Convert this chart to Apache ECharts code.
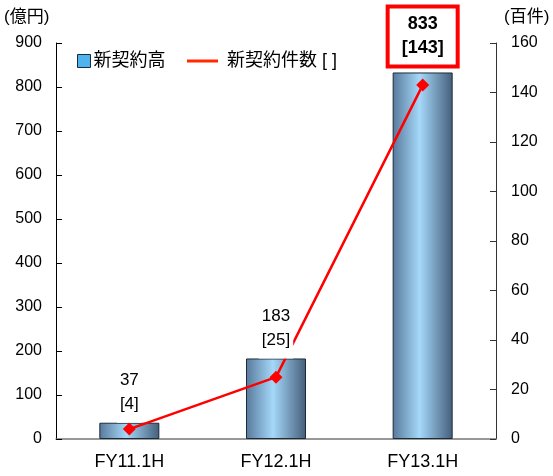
<!DOCTYPE html>
<html>
<head>
<meta charset="utf-8">
<script src="https://cdn.jsdelivr.net/npm/echarts@6/dist/echarts.min.js"></script>
<style>
  html, body { margin: 0; padding: 0; background: #fff; }
  #chart { width: 553px; height: 476px; }
</style>
</head>
<body>
<div id="chart"></div>
<script>
// Half-year new contract volume (億円) and contract count (百件)
const categories = ['FY11.1H', 'FY12.1H', 'FY13.1H'];
const contractAmount = [37, 183, 833];
const contractCount = [4, 25, 143];
const leftTicks = { min: 0, max: 900, interval: 100 };
const rightTicks = { min: 0, max: 160, interval: 20 };

const FONT = '"Liberation Sans", Arial, "Noto Sans CJK JP", sans-serif';

const chart = echarts.init(document.getElementById('chart'), null, { renderer: 'canvas' });

// Value labels sit above each bar: amount on the first line, count in brackets below.
const labelData = contractAmount.map((v, i) => {
  const item = { value: [categories[i], v] };
  if (i === contractAmount.length - 1) {
    item.label = {
      fontWeight: 'bold',
      fontSize: 18,
      borderColor: '#ff0000',
      borderWidth: 4,
      padding: [4, 12, 4, 12],
      distance: 8
    };
  }
  return item;
});

chart.setOption({
  animation: false,
  textStyle: { fontFamily: FONT },
  grid: { left: 56, right: 57, top: 43, bottom: 37, containLabel: false },
  legend: [
    {
      data: [{ name: '新契約高', icon: 'rect' }],
      left: 72, top: 47,
      itemWidth: 13, itemHeight: 13, itemGap: 5,
      itemStyle: { color: '#4fb4ee', borderColor: '#1a2a3a', borderWidth: 1 },
      textStyle: { fontSize: 18, color: '#000', fontFamily: FONT, padding: [0, 0, 0, -2] }
    },
    {
      data: [{ name: '新契約件数 [ ]', icon: 'rect' }],
      left: 182, top: 47,
      itemWidth: 31, itemHeight: 3,
      itemStyle: { color: '#ff2a00', borderWidth: 0 },
      textStyle: { fontSize: 18, color: '#000', fontFamily: FONT, padding: [0, 0, 0, 4] }
    }
  ],
  xAxis: {
    type: 'category',
    data: categories,
    axisLine: { lineStyle: { color: '#777', width: 1.5 } },
    axisTick: { show: false },
    axisLabel: { fontSize: 18, color: '#000', margin: 14, fontFamily: FONT }
  },
  yAxis: [
    {
      type: 'value',
      min: leftTicks.min, max: leftTicks.max, interval: leftTicks.interval,
      splitLine: { show: false },
      axisLine: { show: true, lineStyle: { color: '#000', width: 1 } },
      axisTick: { show: true, inside: true, length: 6, lineStyle: { color: '#000' } },
      axisLabel: { fontSize: 16, color: '#000', margin: 14, fontFamily: FONT }
    },
    {
      type: 'value',
      min: rightTicks.min, max: rightTicks.max, interval: rightTicks.interval,
      splitLine: { show: false },
      axisLine: { show: true, lineStyle: { color: '#333', width: 1 } },
      axisTick: { show: true, inside: true, length: 6, lineStyle: { color: '#333' } },
      axisLabel: { fontSize: 16, color: '#000', margin: 15, fontFamily: FONT }
    }
  ],
  graphic: [
    { type: 'text', left: 4, top: 9, style: { text: '(億円)', fill: '#000', font: '17px ' + FONT } },
    { type: 'text', left: 504, top: 9, style: { text: '(百件)', fill: '#000', font: '17px ' + FONT } }
  ],
  series: [
    {
      name: '新契約高',
      type: 'bar',
      yAxisIndex: 0,
      data: contractAmount,
      barWidth: 60,
      z: 2,
      itemStyle: {
        borderColor: '#1c2b3a',
        borderWidth: 1,
        color: new echarts.graphic.LinearGradient(0, 0, 1, 0, [
          { offset: 0, color: '#58799b' },
          { offset: 0.45, color: '#a5d8f9' },
          { offset: 1, color: '#445e7a' }
        ])
      }
    },
    {
      name: '新契約件数 [ ]',
      type: 'line',
      yAxisIndex: 1,
      data: contractCount,
      z: 3,
      symbol: 'diamond',
      symbolSize: 13,
      lineStyle: { color: '#ff0000', width: 2.5 },
      itemStyle: { color: '#ff0000' }
    },
    {
      // label carrier drawn above the line so the text boxes stay clean
      name: 'labels',
      type: 'scatter',
      yAxisIndex: 0,
      data: labelData,
      symbolSize: 0,
      z: 10,
      silent: true,
      itemStyle: { opacity: 1 },
      label: {
        show: true,
        position: 'top',
        distance: 0,
        fontSize: 17,
        lineHeight: 24,
        color: '#000',
        opacity: 1,
        fontFamily: FONT,
        backgroundColor: '#fff',
        padding: [0, 3, 6, 3],
        formatter: (p) => p.value[1] + '\n[' + contractCount[p.dataIndex] + ']'
      }
    }
  ]
});
</script>
</body>
</html>
